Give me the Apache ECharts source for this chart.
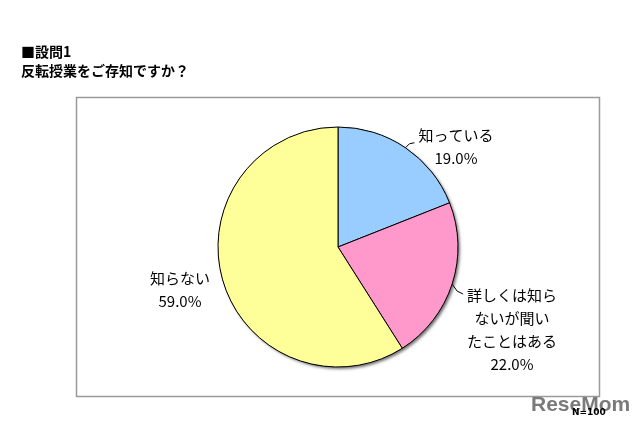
<!DOCTYPE html>
<html>
<head>
<meta charset="utf-8">
<script src="https://cdn.jsdelivr.net/npm/echarts@6/dist/echarts.min.js"></script>
<style>html,body{margin:0;padding:0;background:#fff;}#c{width:640px;height:429px;}</style>
</head>
<body>
<div id="c"></div>
<script>
const titleLines = ['■設問1', '反転授業をご存知ですか？'];
const categories = ['知っている', '詳しくは知ら\nないが聞い\nたことはある', '知らない'];
const values = [19.0, 22.0, 59.0];
const colors = ['#99CCFF', '#FF99CC', '#FFFF99'];
const noteText = 'N=100';

const FONT = '"Noto Sans CJK JP", sans-serif';
const labelPos = [[456, 147], [512, 330], [180, 290]];
const leaderBend = [[[4, -4], [9, -5]], [[5, 7], [11, 10]], null];

const chart = echarts.init(document.getElementById('c'), null, {renderer: 'canvas'});
chart.setOption({
  backgroundColor: '#fff',
  animation: false,
  title: {
    text: titleLines.join('\n'),
    left: 16, top: 37,
    textStyle: {fontFamily: FONT, fontSize: 14, fontWeight: 'bold', color: '#000', lineHeight: 19}
  },
  graphic: [
    {type: 'rect', shape: {x: 76.5, y: 97.5, width: 523, height: 299}, style: {fill: 'none', stroke: '#9a9a9a', lineWidth: 1.5}, z: -10},
    {type: 'text', left: 531, top: 395, style: {text: 'ReseMom', font: 'bold 21px "Liberation Sans", Arial, sans-serif', fill: '#7a7a7a'}, z: 10},
    {type: 'text', left: 572, top: 408, style: {text: noteText, font: 'bold 9px "DejaVu Sans", sans-serif', fill: '#000'}, z: 11}
  ],
  series: [
    {
      type: 'pie', silent: true, center: [338, 247], radius: 120,
      startAngle: 90, clockwise: true, z: 1,
      label: {show: false}, labelLine: {show: false},
      itemStyle: {color: '#000', shadowColor: 'rgba(0,0,0,0.55)', shadowBlur: 3, shadowOffsetX: 2, shadowOffsetY: 2},
      data: [{value: 1}]
    },
    {
      type: 'pie', center: [338, 247], radius: 120,
      startAngle: 90, clockwise: true, z: 2,
      itemStyle: {borderColor: '#000', borderWidth: 1},
      label: {
        show: true, position: 'outside', fontFamily: FONT, fontSize: 15, color: '#000', lineHeight: 23, align: 'center',
        formatter: p => p.name + '\n' + p.value.toFixed(1) + '%'
      },
      labelLine: {show: true, length: 4, length2: 4, lineStyle: {color: '#000', width: 1}},
      labelLayout: function (params) {
        const i = params.dataIndex;
        const p = labelPos[i];
        const out = {x: p[0], y: p[1], align: 'center', verticalAlign: 'middle'};
        const b = leaderBend[i];
        if (b && params.labelLinePoints) {
          const s = params.labelLinePoints[0];
          out.labelLinePoints = [[s[0], s[1]], [s[0] + b[0][0], s[1] + b[0][1]], [s[0] + b[1][0], s[1] + b[1][1]]];
        }
        return out;
      },
      data: categories.map((c, i) => ({
        name: c, value: values[i], itemStyle: {color: colors[i]},
        labelLine: {show: i < 2}
      }))
    }
  ]
});
</script>
</body>
</html>
